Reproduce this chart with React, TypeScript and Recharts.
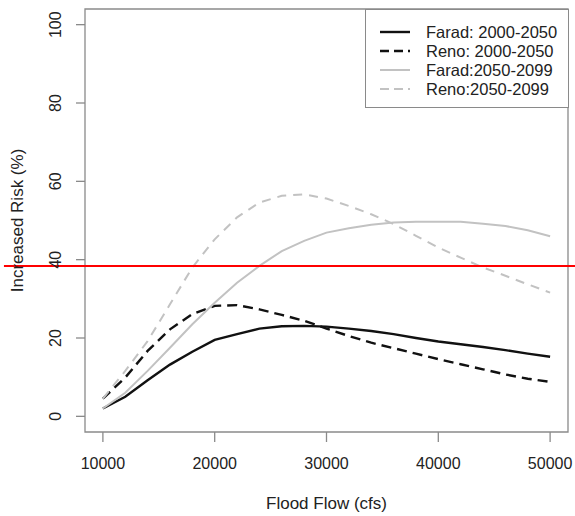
import React from 'react';
import { LineChart, Line, XAxis, YAxis, ReferenceLine, ReferenceArea, Legend } from 'recharts';

const flows = [10000, 12000, 14000, 16000, 18000, 20000, 22000, 24000, 26000, 28000, 30000, 32000, 34000, 36000, 38000, 40000, 42000, 44000, 46000, 48000, 50000];
const faradEarly = [2.0, 5.0, 9.2, 13.2, 16.5, 19.5, 21.0, 22.4, 23.0, 23.1, 22.9, 22.4, 21.8, 21.0, 20.0, 19.1, 18.4, 17.7, 16.9, 16.0, 15.2];
const renoEarly = [4.5, 9.9, 16.7, 22.2, 26.1, 28.2, 28.4, 27.3, 25.9, 24.4, 22.4, 20.5, 18.8, 17.4, 16.0, 14.6, 13.3, 12.0, 10.7, 9.6, 8.8];
const faradLate = [2.0, 6.0, 11.6, 17.5, 23.5, 29.0, 34.1, 38.4, 42.2, 44.8, 46.9, 48.0, 48.9, 49.5, 49.7, 49.7, 49.7, 49.2, 48.6, 47.5, 46.0];
const renoLate = [4.5, 11.6, 19.2, 28.6, 38.0, 45.2, 50.8, 54.6, 56.3, 56.7, 55.6, 53.7, 51.6, 49.1, 46.1, 43.1, 40.5, 38.0, 35.9, 33.7, 31.6];
const xTicks = [10000, 20000, 30000, 40000, 50000];
const yTicks = [0, 20, 40, 60, 80, 100];
const threshold = 38.4;
const seriesNames = ['Farad: 2000-2050', 'Reno: 2000-2050', 'Farad:2050-2099', 'Reno:2050-2099'];

const data = flows.map((f, i) => ({
  flow: f,
  faradEarly: faradEarly[i],
  renoEarly: renoEarly[i],
  faradLate: faradLate[i],
  renoLate: renoLate[i],
}));

const FONT = '"Liberation Sans", Arial, sans-serif';
const BOX = '#8a8a8a';

const styles = [
  { key: 'faradEarly', color: '#111111', width: 2.4, dash: undefined as string | undefined },
  { key: 'renoEarly', color: '#111111', width: 2.4, dash: '10 6' },
  { key: 'faradLate', color: '#c2c2c2', width: 2, dash: undefined as string | undefined },
  { key: 'renoLate', color: '#c2c2c2', width: 2, dash: '9 7' },
];

const YTick = (props: any) => {
  const { x, y, payload } = props;
  const cx = x - 19;
  return (
    <text x={cx} y={y} transform={`rotate(-90, ${cx}, ${y})`} textAnchor="middle" dy="0.36em"
      fontFamily={FONT} fontSize={16} fill="#222">
      {payload.value}
    </text>
  );
};

const LegendBox = () => (
  <svg width={204} height={99} style={{ display: 'block' }}>
    <rect x={0.5} y={0.5} width={203} height={98} fill="#fff" stroke={BOX} strokeWidth={1} />
    {seriesNames.map((name, i) => {
      const s = styles[i];
      const cy = 23 + i * 19;
      return (
        <g key={name}>
          <line x1={15} x2={45} y1={cy} y2={cy} stroke={s.color} strokeWidth={s.width} strokeDasharray={s.dash ? '9 5' : undefined} />
          <text x={61} y={cy} dy="0.36em" fontFamily={FONT} fontSize={16.5} fill="#222">{name}</text>
        </g>
      );
    })}
  </svg>
);

export default function App() {
  return (
    <div style={{ width: 575, height: 516, background: '#fff' }}>
      <style>{'body{margin:0;background:#fff}'}</style>
      <LineChart width={575} height={516} data={data} margin={{ top: 9, right: 7, bottom: 0, left: 0 }}>
        <XAxis
          dataKey="flow"
          type="number"
          domain={[8400, 51600]}
          ticks={xTicks}
          allowDataOverflow
          height={84}
          tickSize={10}
          tickMargin={16}
          axisLine={false}
          tickLine={{ stroke: BOX, strokeWidth: 1.3 }}
          tick={{ fontFamily: FONT, fontSize: 16, fill: '#222' }}
          label={(p: any) => {
            const vb = p.viewBox || {};
            return (
              <text x={vb.x + vb.width / 2} y={vb.y + 77} textAnchor="middle" fontFamily={FONT} fontSize={17} fill="#222">
                Flood Flow (cfs)
              </text>
            );
          }}
        />
        <YAxis
          type="number"
          domain={[-4, 104]}
          ticks={yTicks}
          allowDataOverflow
          width={85}
          tickSize={9}
          axisLine={false}
          tickLine={{ stroke: BOX, strokeWidth: 1.3 }}
          tick={<YTick />}
          label={(p: any) => {
            const vb = p.viewBox || {};
            const cy = vb.y + vb.height / 2;
            return (
              <text x={17} y={cy} transform={`rotate(-90, 17, ${cy})`} textAnchor="middle" dy="0.36em"
                fontFamily={FONT} fontSize={17} fill="#222">
                Increased Risk (%)
              </text>
            );
          }}
        />
        <ReferenceArea x1={8400} x2={51600} y1={-4} y2={104} fill="none" stroke={BOX} strokeWidth={1.3} ifOverflow="visible" />
        {styles.map((s, i) => (
          <Line
            key={s.key}
            dataKey={s.key}
            name={seriesNames[i]}
            type="linear"
            stroke={s.color}
            strokeWidth={s.width}
            strokeDasharray={s.dash}
            dot={false}
            activeDot={false}
            isAnimationActive={false}
          />
        ))}
        <Legend
          layout="vertical"
          align="center"
          verticalAlign="middle"
          content={() => <LegendBox />}
          wrapperStyle={{ position: 'absolute', top: 9, left: 365, width: 204, height: 99 }}
        />
        <ReferenceLine
          segment={[{ x: 1150, y: threshold }, { x: 52300, y: threshold }]}
          stroke="#ff0000"
          strokeWidth={2}
          ifOverflow="visible"
        />
      </LineChart>
    </div>
  );
}
